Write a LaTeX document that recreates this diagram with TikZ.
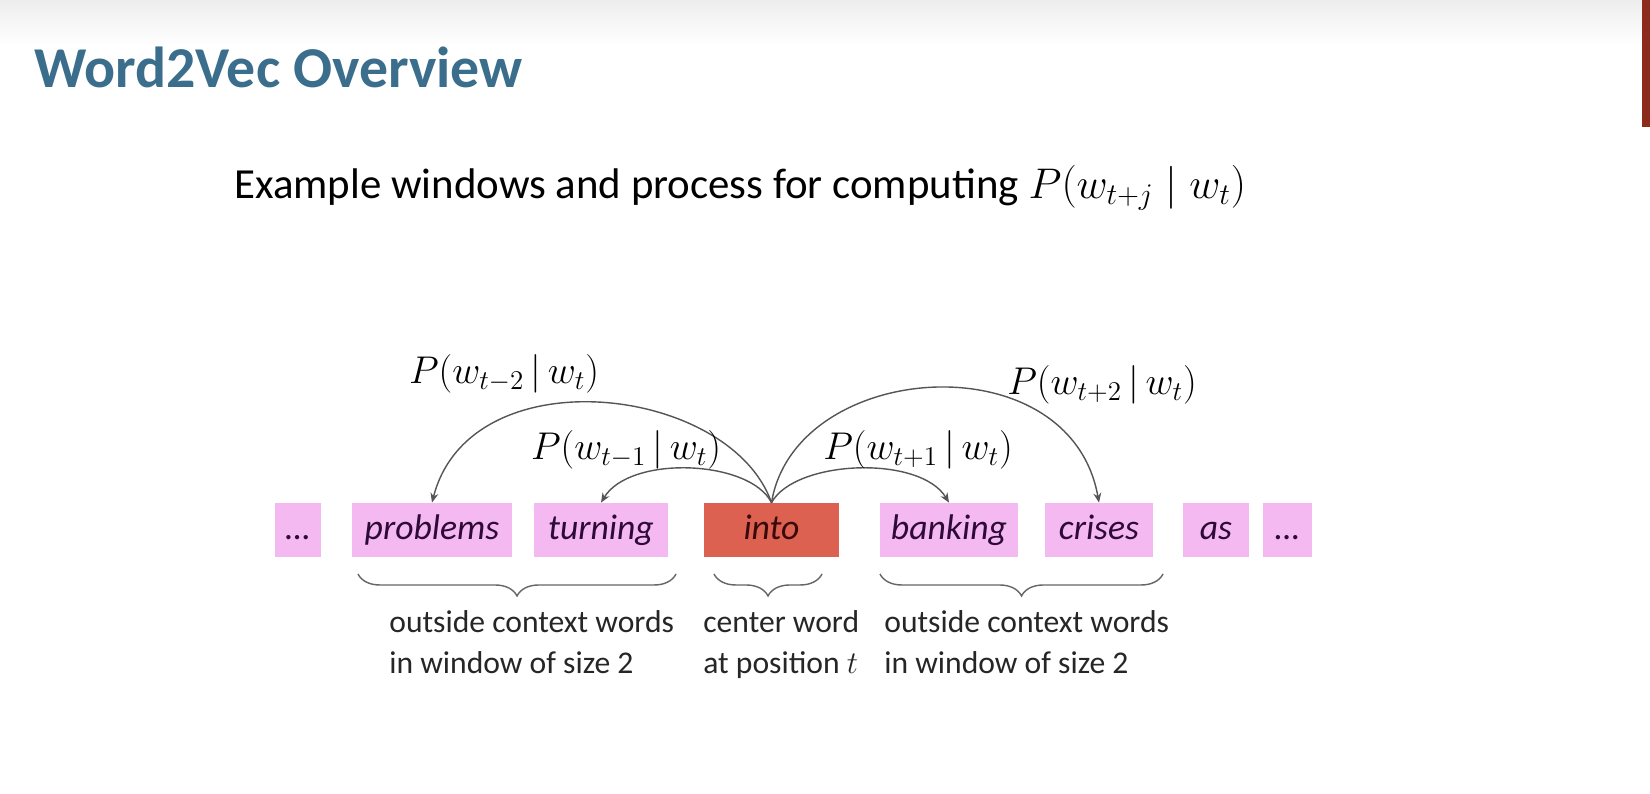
\RequirePackage{fix-cm}
\documentclass[tikz,border=0pt]{standalone}
\usepackage{fontspec}
\setmainfont{Carlito}
\usetikzlibrary{arrows.meta,decorations.pathreplacing}
\definecolor{titleblue}{HTML}{3A6E8C}
\definecolor{wordpink}{HTML}{F4B9F1}
\definecolor{centerred}{HTML}{DC6150}
\definecolor{wordtext}{HTML}{2E0A36}
\definecolor{centertext}{HTML}{3A0A0A}
\definecolor{barred}{HTML}{8C2A1C}
\definecolor{arcgray}{HTML}{555555}
\tikzset{
  wordbox/.style={fill=wordpink, minimum height=54*0.02cm, inner sep=0pt,
    text=wordtext, font=\fontsize{20.3}{24}\selectfont\itshape,
    text height=1.04em, text depth=0em},
  ctxarrow/.style={arcgray, line width=0.8pt, -{Stealth[length=5.5pt,width=4.5pt]}},
  problbl/.style={font=\fontsize{22}{26}\selectfont},
  winlbl/.style={font=\fontsize{18}{23.3}\selectfont, align=left, text=black!85, inner sep=0pt},
  winbrace/.style={gray!80!black, line width=0.8pt, decorate,
    decoration={brace,mirror,amplitude=12.5pt}}
}
\begin{document}
\begin{tikzpicture}[x=0.02cm,y=-0.02cm]
    % Khung và nền
    \useasboundingbox (0,0) rectangle (1650,794);
    \fill[white] (0,0) rectangle (1650,794);
    \shade[top color=black!7, bottom color=white] (0,0) rectangle (1650,45);
    \fill[barred] (1642,0) rectangle (1650,127);

    % Tiêu đề
    \node[anchor=base west, inner sep=0pt, text=titleblue,
      font=\fontsize{32.9}{38}\selectfont\bfseries] (title) at (34,88) {Word2Vec Overview};
    \node[anchor=base west, inner sep=0pt, font=\fontsize{24.4}{29}\selectfont] (subtitle) at (234,198)
      {Example windows and process for computing $P\Bigl(w_{t+j}\;|\;w_t\Bigr)$};

    % Các từ trong câu
    \foreach \cx/\w/\nm/\txt in {298/46/dotsL/\dots, 432/160/problems/problems,
      601/134/turning/turning, 949/138/banking/banking, 1099/108/crises/crises,
      1216/66/as/as, 1287.5/49/dotsR/\dots}
    \node[wordbox, minimum width=\w*0.02cm] (\nm) at (\cx,530) {\txt};

    % Từ trung tâm
    \node[wordbox, fill=centerred, text=centertext, minimum width=135*0.02cm] (into) at (771.5,530) {into};

    % Các mũi tên xác suất
    \draw[ctxarrow] (into.north) .. controls +(-41.5,-118) and +(38,-148) .. (problems.north);
    \draw[ctxarrow] (into.north) .. controls +(-21.5,-43) and +(29,-48) .. (turning.north);
    \draw[ctxarrow] (into.north) .. controls +(23.5,-43) and +(-29,-48) .. (banking.north);
    \draw[ctxarrow] (into.north) .. controls +(23.5,-143) and +(-29,-163) .. (crises.north);

    % Nhãn xác suất
    \node[problbl] (pm2) at (504,374) {$P(w_{t-2}\,|\,w_t)$};
    \node[problbl] (pm1) at (626,450) {$P(w_{t-1}\,|\,w_t)$};
    \node[problbl] (pp1) at (918,450) {$P(w_{t+1}\,|\,w_t)$};
    \node[problbl] (pp2) at (1102,385) {$P(w_{t+2}\,|\,w_t)$};

    % Ngoặc nhọn bên dưới
    \draw[winbrace] (358,574) -- (676,574);
    \draw[winbrace] (714,574) -- (822,574);
    \draw[winbrace] (880,574) -- (1163,574);

    % Chú thích
    \node[winlbl, anchor=north west] (lblL) at (389,610) {outside context words\\in window of size 2};
    \node[winlbl, anchor=north west] (lblC) at (703,610) {center word\\at position $t$};
    \node[winlbl, anchor=north west] (lblR) at (884,610) {outside context words\\in window of size 2};
\end{tikzpicture}
\end{document}
